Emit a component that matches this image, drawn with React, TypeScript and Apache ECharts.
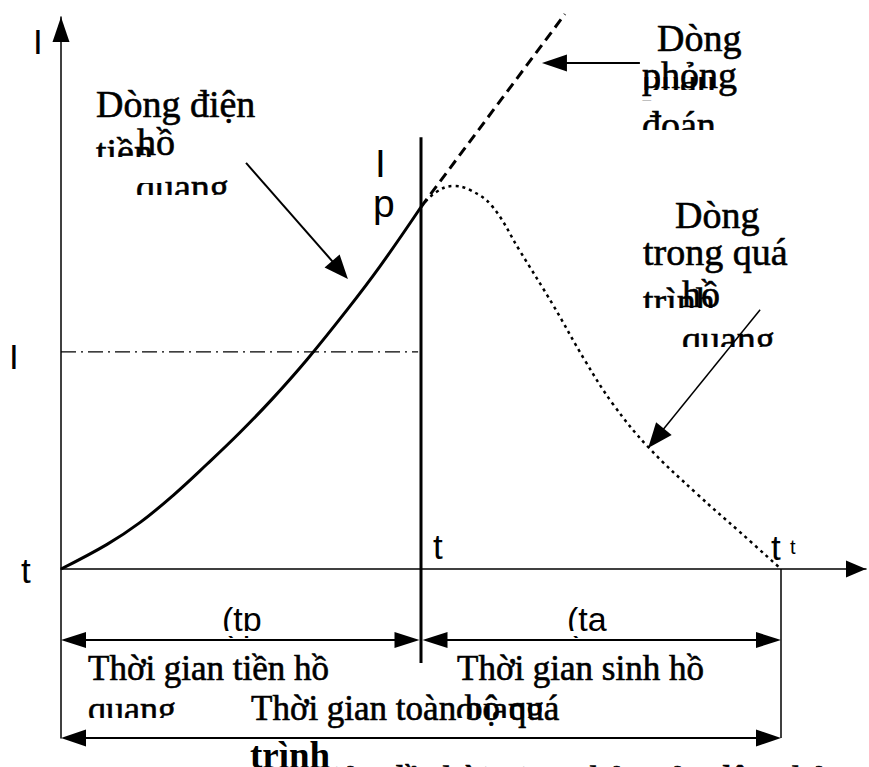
import React, { useEffect, useRef } from "react";
import * as echarts from "echarts";

// ---- data (time units, current units) ----
const preArcX = [0, 1.28, 2.19, 3.11, 4.06, 4.97, 5.89, 6.83, 7.94, 8.86, 10];
const preArcY = [0, 0.68, 1.28, 2.03, 2.9, 3.77, 4.72, 5.78, 7.15, 8.36, 10];
const arcX = [10, 10.39, 10.89, 11.36, 11.97, 12.75, 13.67, 14.56, 15.33, 16.31, 17.67, 18.86, 20];
const arcY = [10, 10.39, 10.58, 10.47, 10.03, 8.78, 7.29, 5.75, 4.56, 3.37, 2.07, 1.02, 0];
const prospX = [10, 14];
const prospY = [10, 15.33];
const levelI = 6; // dash-dot current level
const tPre = 10; // end of pre-arcing
const tTotal = 20; // end of arcing
const ipTop = 11.93;
// annotation arrows [tailX, tailY, tipX, tipY]
const preArrow = [5.14, 11.22, 7.97, 8.01];
const prospArrow = [16.08, 13.98, 13.36, 13.98];
const arcArrow = [19.42, 7.16, 16.31, 3.34];

const W = 869;
const H = 767;
const SERIF = '"Liberation Serif", "Times New Roman", serif';
const SANS = '"Liberation Sans", Arial, sans-serif';

const zip = (xs: number[], ys: number[]) => xs.map((x, i) => [x, ys[i]]);

function txt(text: string, x: number, baseline: number, size: number, family: string, weight = "normal", heavy = 0) {
  const style: any = {
    text,
    fill: "#000",
    fontSize: size,
    fontFamily: family,
    fontWeight: weight,
    align: "left",
    verticalAlign: "middle",
    textAlign: "left",
    textVerticalAlign: "middle",
  };
  if (heavy > 0) {
    style.stroke = "#000";
    style.lineWidth = heavy;
  }
  return { type: "text", x, y: baseline - 0.34 * size, silent: true, style };
}
const ser = (text: string, x: number, baseline: number, size = 38) => txt(text, x, baseline, size, SERIF, "normal", 0.6);

function white(x: number, y: number, w: number, h: number) {
  return { type: "rect", silent: true, shape: { x, y, width: w, height: h }, style: { fill: "#fff" } };
}

function seg(x1: number, y1: number, x2: number, y2: number, lw: number) {
  return { type: "line", silent: true, shape: { x1, y1, x2, y2 }, style: { stroke: "#000", lineWidth: lw } };
}

function arrow(p1: number[], p2: number[], L: number, Wd: number, lw: number, startHead: boolean, endHead: boolean) {
  const dx = p2[0] - p1[0];
  const dy = p2[1] - p1[1];
  const len = Math.hypot(dx, dy);
  const ux = dx / len;
  const uy = dy / len;
  const nx = -uy;
  const ny = ux;
  const a = startHead ? [p1[0] + ux * L * 0.8, p1[1] + uy * L * 0.8] : p1;
  const b = endHead ? [p2[0] - ux * L * 0.8, p2[1] - uy * L * 0.8] : p2;
  const els: any[] = [seg(a[0], a[1], b[0], b[1], lw)];
  const head = (tip: number[], sx: number, sy: number) => ({
    type: "polygon",
    silent: true,
    shape: {
      points: [
        [tip[0], tip[1]],
        [tip[0] - sx * L + nx * Wd, tip[1] - sy * L + ny * Wd],
        [tip[0] - sx * L - nx * Wd, tip[1] - sy * L - ny * Wd],
      ],
    },
    style: { fill: "#000" },
  });
  if (endHead) els.push(head(p2, ux, uy));
  if (startHead) els.push(head(p1, -ux, -uy));
  return els;
}

export default function App() {
  const ref = useRef<HTMLDivElement>(null);
  useEffect(() => {
    const chart = echarts.init(ref.current!, null, { renderer: "svg", width: W, height: H });
    const base = { type: "line", symbol: "none", showSymbol: false, silent: true, clip: false };
    chart.setOption({
      animation: false,
      backgroundColor: "#fff",
      grid: { left: 61, right: 3, top: 17, bottom: 29 },
      xAxis: {
        type: "value",
        min: 0,
        max: 805 / 36,
        axisLine: {
          show: true,
          onZero: true,
          symbol: ["none", "triangle"],
          symbolSize: [17, 20],
          symbolOffset: [0, -10],
          lineStyle: { color: "#000", width: 1.5 },
        },
        axisTick: { show: false },
        axisLabel: { show: false },
        splitLine: { show: false },
      },
      yAxis: {
        type: "value",
        min: -169 / 36.2,
        max: 552 / 36.2,
        axisLine: {
          show: true,
          onZero: false,
          symbol: ["none", "triangle"],
          symbolSize: [17, 25],
          symbolOffset: [0, -12.5],
          lineStyle: { color: "#000", width: 1.5 },
        },
        axisTick: { show: false },
        axisLabel: { show: false },
        splitLine: { show: false },
      },
      series: [
        { ...base, name: "pre", data: zip(preArcX, preArcY), smooth: 0.4, lineStyle: { color: "#000", width: 3 } },
        { ...base, name: "prosp", data: zip(prospX, prospY), lineStyle: { color: "#000", width: 3, type: [10, 6] } },
        { ...base, name: "arc", data: zip(arcX, arcY), smooth: 0.4, lineStyle: { color: "#000", width: 2.5, type: [3, 4], cap: "butt" } },
        { ...base, name: "level", data: [[0, levelI], [tPre - 0.08, levelI]], lineStyle: { color: "#000", width: 1.2, type: [15, 5, 2, 5] } },
      ],
    });

    const P = (x: number, y: number) => chart.convertToPixel({ gridIndex: 0 }, [x, y]) as number[];
    const x0 = P(0, 0)[0];
    const y0 = P(0, 0)[1];
    const xp = P(tPre, 0)[0];
    const xt = P(tTotal, 0)[0];
    const yTop = P(tPre, ipTop)[1];
    const yBottom = P(0, -169 / 36.2)[1];
    const dimY1 = 640;
    const dimY2 = yBottom;

    const under = [
      ser("tiền", 96, 165),
      ser("quang", 136, 200),
      ser("phán", 642, 92),
      ser("đoán", 642, 138),
      ser("trình", 643, 314),
      ser("quang", 682, 352),
      ser("quang", 88, 721, 36),
      ser("quang", 456, 721, 36),
      txt("(tp", 222, 631, 34, SANS),
      txt("(ta", 567, 631, 34, SANS),
    ];
    const clips = [
      white(92, 157, 70, 26),
      white(130, 195, 108, 22),
      white(638, 55, 86, 22),
      white(638, 90, 86, 10),
      white(638, 130, 88, 20),
      white(640, 308, 78, 22),
      white(678, 347, 100, 18),
      white(86, 718, 106, 16),
      white(452, 718, 110, 16),
      white(218, 631, 60, 5),
      white(563, 631, 60, 5),
    ];
    const top = [
      ser("Dòng điện", 96, 117),
      ser("hồ", 137, 155),
      ser("Dòng", 657, 51),
      ser("phỏng", 642, 88),
      ser("Dòng", 675, 228),
      ser("trong quá", 643, 265),
      ser("hồ", 682, 307),
      ser("Thời gian tiền hồ", 88, 680, 35),
      ser("Thời gian sinh hồ", 457, 680, 35),
      ser("Thời gian toàn bộ quá", 251, 720, 35),
      txt("trình", 250, 768, 37, SERIF, "bold"),
      ser("Giản đồ thời gian chảy của dây chảy cầu chì", 305, 792, 37),
      txt("I", 33, 53, 35, SANS),
      txt("I", 9, 368, 35, SANS),
      txt("t", 21, 582, 35, SANS),
      txt("I", 375, 177, 39, SANS),
      txt("p", 373, 217, 39, SANS),
      txt("t", 433, 558, 35, SANS),
      txt("t", 771, 559, 35, SANS),
      txt("t", 790, 554, 20, SANS),
    ];
    const lines = [
      seg(xp, yTop, xp, 663, 3),
      seg(xt, y0, xt, yBottom, 1.5),
      ...arrow([x0, dimY1], [xp - 1.5, dimY1], 25, 8, 2, true, true),
      ...arrow([xp + 1.5, dimY1], [xt, dimY1], 25, 8, 2, true, true),
      ...arrow([x0, dimY2], [xt, dimY2], 25, 8.5, 2, true, true),
      ...arrow(P(preArrow[0], preArrow[1]), P(preArrow[2], preArrow[3]), 24, 10, 2, false, true),
      ...arrow(P(prospArrow[0], prospArrow[1]), P(prospArrow[2], prospArrow[3]), 25, 8.5, 2, false, true),
      ...arrow(P(arcArrow[0], arcArrow[1]), P(arcArrow[2], arcArrow[3]), 25, 10, 1.5, false, true),
    ];
    chart.setOption({ graphic: { elements: [...under, ...clips, ...top, ...lines] } });
    return () => chart.dispose();
  }, []);
  return <div ref={ref} style={{ position: "fixed", left: 0, top: 0, width: W, height: H, background: "#fff" }} />;
}
